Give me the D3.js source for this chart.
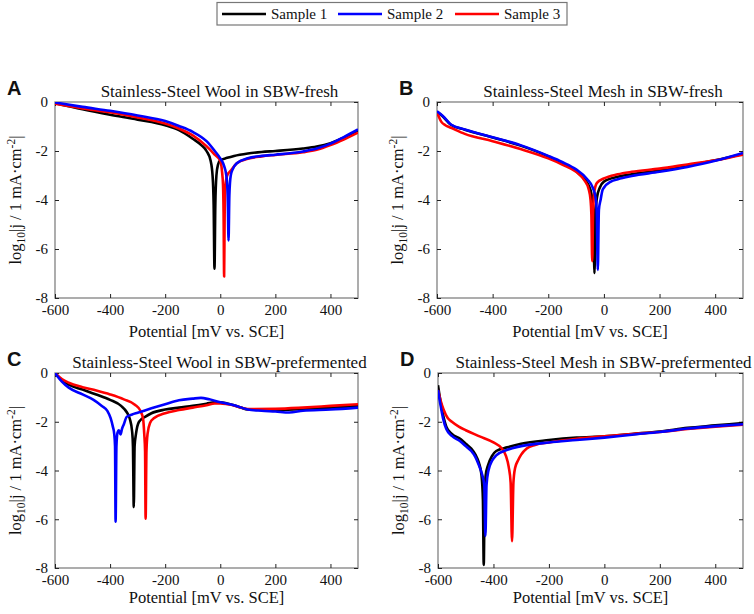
<!DOCTYPE html>
<html>
<head>
<meta charset="utf-8">
<script src="https://cdn.jsdelivr.net/npm/d3@7"></script>
<style>
  body { margin: 0; background: #fff; }
  text { font-family: "Liberation Serif", "Times New Roman", Times, serif; fill: #111; }
</style>
</head>
<body>
<script>
// potential (mV vs SCE) and log10|j|
var sampleNames = ["Sample 1", "Sample 2", "Sample 3"];
var sampleColors = ["#000000", "#0000ff", "#ff0000"];
var xTicks = [-600, -400, -200, 0, 200, 400];
var yTicks = [0, -2, -4, -6, -8];

// A: wool, fresh
var woolFresh1 = [[-600,-0.05],[-500,-0.3],[-400,-0.52],[-300,-0.72],[-200,-0.95],[-150,-1.15],[-100,-1.5],[-70,-1.75],[-50,-2.0],[-35,-2.4],[-28,-3.0],[-24,-4.2],[-21,-6.8],[-18,-4.2],[-14,-3.0],[-8,-2.55],[0,-2.38],[25,-2.28],[50,-2.2],[100,-2.1],[150,-2.04],[200,-2.0],[300,-1.9],[350,-1.82],[400,-1.68],[450,-1.45],[500,-1.15]];
var woolFresh2 = [[-600,-0.02],[-500,-0.2],[-400,-0.36],[-300,-0.55],[-200,-0.78],[-150,-0.98],[-100,-1.22],[-50,-1.6],[-20,-2.0],[0,-2.3],[12,-2.55],[22,-3.0],[27,-3.8],[30,-5.65],[33,-3.8],[38,-3.0],[45,-2.75],[60,-2.5],[100,-2.3],[150,-2.2],[200,-2.15],[300,-2.02],[350,-1.9],[400,-1.7],[450,-1.42],[500,-1.12]];
var woolFresh3 = [[-600,-0.07],[-500,-0.26],[-400,-0.42],[-300,-0.63],[-200,-0.88],[-150,-1.08],[-100,-1.36],[-50,-1.8],[-20,-2.15],[0,-2.4],[6,-2.8],[10,-3.4],[12,-4.5],[14,-7.12],[16,-4.5],[19,-3.4],[25,-3.0],[40,-2.78],[60,-2.5],[100,-2.32],[150,-2.22],[200,-2.16],[300,-2.05],[350,-1.95],[400,-1.76],[450,-1.52],[500,-1.25]];

// B: mesh, fresh
var meshFresh1 = [[-600,-0.4],[-580,-0.58],[-550,-0.93],[-500,-1.13],[-400,-1.45],[-300,-1.78],[-200,-2.22],[-150,-2.5],[-100,-2.82],[-70,-3.15],[-55,-3.4],[-44,-3.8],[-38,-4.5],[-34,-6.98],[-30,-4.5],[-25,-3.9],[-15,-3.5],[0,-3.25],[50,-3.05],[100,-2.95],[200,-2.8],[300,-2.6],[400,-2.38],[500,-2.12]];
var meshFresh2 = [[-600,-0.38],[-580,-0.56],[-550,-0.92],[-500,-1.12],[-400,-1.44],[-300,-1.76],[-200,-2.2],[-150,-2.45],[-100,-2.75],[-60,-3.15],[-40,-3.5],[-30,-3.9],[-26,-4.4],[-22,-6.85],[-18,-4.4],[-12,-4.0],[-5,-3.6],[0,-3.5],[25,-3.25],[50,-3.15],[100,-3.02],[200,-2.85],[300,-2.65],[400,-2.4],[500,-2.08]];
var meshFresh3 = [[-600,-0.42],[-585,-0.8],[-570,-0.95],[-550,-1.05],[-500,-1.3],[-400,-1.6],[-300,-1.92],[-200,-2.3],[-150,-2.55],[-100,-2.85],[-70,-3.2],[-55,-3.55],[-48,-4.0],[-45,-4.6],[-42,-6.5],[-39,-4.6],[-35,-3.7],[-25,-3.3],[0,-3.12],[50,-2.95],[100,-2.85],[200,-2.72],[300,-2.55],[400,-2.38],[500,-2.15]];

// C: wool, prefermented
var woolPre1 = [[-600,0],[-575,-0.3],[-550,-0.48],[-500,-0.68],[-450,-0.88],[-400,-1.1],[-360,-1.35],[-340,-1.6],[-328,-1.9],[-320,-2.4],[-317,-3.0],[-314,-5.5],[-311,-3.0],[-306,-2.5],[-295,-2.0],[-270,-1.78],[-250,-1.65],[-200,-1.5],[-150,-1.42],[-100,-1.35],[-50,-1.26],[-20,-1.2],[0,-1.2],[25,-1.25],[50,-1.32],[75,-1.42],[100,-1.5],[200,-1.52],[300,-1.47],[400,-1.42],[500,-1.35]];
var woolPre2 = [[-600,0],[-575,-0.35],[-550,-0.6],[-500,-0.88],[-460,-1.1],[-430,-1.35],[-410,-1.55],[-398,-1.85],[-390,-2.2],[-385,-2.5],[-382,-3.0],[-380,-6.1],[-377,-3.0],[-373,-2.45],[-368,-2.35],[-362,-2.52],[-357,-2.3],[-350,-2.1],[-340,-1.8],[-320,-1.7],[-300,-1.63],[-250,-1.45],[-200,-1.28],[-150,-1.12],[-100,-1.05],[-70,-1.02],[-40,-1.08],[0,-1.2],[50,-1.32],[100,-1.5],[150,-1.55],[200,-1.58],[250,-1.62],[300,-1.55],[400,-1.5],[500,-1.42]];
var woolPre3 = [[-600,0],[-575,-0.25],[-550,-0.4],[-500,-0.58],[-450,-0.72],[-400,-0.88],[-350,-1.08],[-310,-1.3],[-290,-1.55],[-280,-1.9],[-276,-2.5],[-273,-3.2],[-271,-5.98],[-268,-3.2],[-264,-2.5],[-255,-2.05],[-240,-1.85],[-200,-1.65],[-150,-1.52],[-100,-1.42],[-50,-1.32],[-20,-1.25],[0,-1.25],[25,-1.28],[50,-1.33],[75,-1.42],[100,-1.48],[200,-1.47],[300,-1.42],[400,-1.35],[500,-1.28]];

// D: mesh, prefermented
var meshPre1 = [[-600,-0.5],[-592,-1.1],[-582,-1.7],[-570,-2.2],[-550,-2.5],[-520,-2.7],[-500,-2.9],[-480,-3.1],[-465,-3.35],[-452,-3.7],[-443,-4.2],[-438,-5.2],[-435,-7.87],[-432,-5.2],[-428,-4.2],[-420,-3.8],[-405,-3.4],[-390,-3.2],[-350,-3.05],[-300,-2.9],[-200,-2.75],[-100,-2.65],[0,-2.6],[100,-2.5],[200,-2.4],[300,-2.25],[400,-2.15],[500,-2.05]];
var meshPre2 = [[-600,-0.7],[-592,-1.25],[-582,-1.85],[-570,-2.3],[-550,-2.58],[-520,-2.8],[-500,-3.0],[-480,-3.2],[-465,-3.45],[-452,-3.8],[-440,-4.2],[-433,-4.6],[-429,-6.68],[-425,-4.6],[-418,-4.0],[-405,-3.6],[-390,-3.38],[-350,-3.15],[-300,-3.0],[-200,-2.85],[-100,-2.75],[0,-2.65],[100,-2.53],[200,-2.42],[300,-2.28],[400,-2.18],[500,-2.1]];
var meshPre3 = [[-600,-0.7],[-590,-1.15],[-580,-1.5],[-565,-1.85],[-550,-2.0],[-525,-2.2],[-500,-2.35],[-450,-2.6],[-400,-2.85],[-370,-3.1],[-355,-3.4],[-345,-3.85],[-338,-4.5],[-333,-6.9],[-328,-4.5],[-322,-3.9],[-312,-3.6],[-300,-3.35],[-280,-3.1],[-250,-2.95],[-200,-2.85],[-100,-2.7],[0,-2.6],[100,-2.5],[200,-2.42],[300,-2.3],[400,-2.2],[500,-2.12]];

var svg = d3.select("body").append("svg")
    .attr("width", 754)
    .attr("height", 614);

// legend
var legend = svg.append("g");
legend.append("rect")
    .attr("x", 217).attr("y", 2.5)
    .attr("width", 350).attr("height", 22.5)
    .attr("fill", "#fff")
    .attr("stroke", "#777")
    .attr("stroke-width", 1.2);
var legendX = [222, 338, 455];
sampleNames.forEach(function (name, i) {
    legend.append("line")
        .attr("x1", legendX[i]).attr("x2", legendX[i] + 44)
        .attr("y1", 14).attr("y2", 14)
        .attr("stroke", sampleColors[i])
        .attr("stroke-width", 2.4);
    legend.append("text")
        .attr("x", legendX[i] + 49).attr("y", 19)
        .attr("font-size", "15px")
        .text(name);
});

var panels = [
    { tag: "A", title: "Stainless-Steel Wool in SBW-fresh", series: [woolFresh1, woolFresh2, woolFresh3],
      left: 55, right: 358, top: 102, bottom: 298 },
    { tag: "B", title: "Stainless-Steel Mesh in SBW-fresh", series: [meshFresh1, meshFresh2, meshFresh3],
      left: 437, right: 743, top: 102, bottom: 298 },
    { tag: "C", title: "Stainless-Steel Wool in SBW-prefermented", series: [woolPre1, woolPre2, woolPre3],
      left: 55, right: 358, top: 373, bottom: 568 },
    { tag: "D", title: "Stainless-Steel Mesh in SBW-prefermented", series: [meshPre1, meshPre2, meshPre3],
      left: 438, right: 743, top: 373, bottom: 568 }
];

panels.forEach(function (p, pi) {
    var x = d3.scaleLinear().domain([-600, 500]).range([p.left, p.right]);
    var y = d3.scaleLinear().domain([-8, 0]).range([p.bottom, p.top]);
    var g = svg.append("g");

    g.append("clipPath").attr("id", "clip" + pi)
        .append("rect")
        .attr("x", p.left).attr("y", p.top)
        .attr("width", p.right - p.left).attr("height", p.bottom - p.top);

    // frame
    g.append("rect")
        .attr("x", p.left).attr("y", p.top)
        .attr("width", p.right - p.left).attr("height", p.bottom - p.top)
        .attr("fill", "none")
        .attr("stroke", "#8a8a8a")
        .attr("stroke-width", 1.4);

    // inward ticks on all four sides
    var fmt = function (d) { return String(d); };
    g.append("g").attr("transform", "translate(0," + p.bottom + ")")
        .call(d3.axisBottom(x).tickValues(xTicks).tickSize(-4).tickPadding(6).tickFormat(fmt))
        .call(style);
    g.append("g").attr("transform", "translate(0," + p.top + ")")
        .call(d3.axisTop(x).tickValues(xTicks).tickSize(-4).tickFormat(""))
        .call(style);
    g.append("g").attr("transform", "translate(" + p.left + ",0)")
        .call(d3.axisLeft(y).tickValues(yTicks).tickSize(-4).tickPadding(7).tickFormat(fmt))
        .call(style);
    g.append("g").attr("transform", "translate(" + p.right + ",0)")
        .call(d3.axisRight(y).tickValues(yTicks).tickSize(-4).tickFormat(""))
        .call(style);

    var line = d3.line()
        .x(function (d) { return x(d[0]); })
        .y(function (d) { return y(d[1]); })
        .curve(d3.curveMonotoneX);

    [0, 2, 1].forEach(function (i) {
        g.append("path")
            .datum(p.series[i])
            .attr("clip-path", "url(#clip" + pi + ")")
            .attr("fill", "none")
            .attr("stroke", sampleColors[i])
            .attr("stroke-width", 2.6)
            .attr("stroke-linejoin", "round")
            .attr("d", line);
    });

    // title
    g.append("text")
        .attr("x", (p.left + p.right) / 2 + 13)
        .attr("y", p.top - 5)
        .attr("text-anchor", "middle")
        .attr("font-size", "17px")
        .text(p.title);

    // panel letter
    g.append("text")
        .attr("x", pi % 2 ? p.left - 38 : p.left - 48)
        .attr("y", p.top - 7)
        .attr("font-weight", "bold")
        .attr("font-size", "20px")
        .style("font-family", "'Liberation Sans', Arial, sans-serif")
        .text(p.tag);

    // x label
    g.append("text")
        .attr("x", (p.left + p.right) / 2)
        .attr("y", p.bottom + (pi < 2 ? 39 : 35))
        .attr("text-anchor", "middle")
        .attr("font-size", "16.5px")
        .text("Potential [mV vs. SCE]");

    // y label
    var yl = g.append("text")
        .attr("transform", "translate(" + (p.left - 34) + "," + ((p.top + p.bottom) / 2) + ") rotate(-90)")
        .attr("text-anchor", "middle")
        .attr("font-size", "16.5px");
    yl.append("tspan").text("log");
    yl.append("tspan").attr("font-size", "11.5px").attr("dy", 4).text("10");
    yl.append("tspan").attr("dy", -4).text("|j / 1 mA·cm");
    yl.append("tspan").attr("font-size", "11.5px").attr("dy", -6).text("-2");
    yl.append("tspan").attr("dy", 6).text("|");
});

function style(sel) {
    sel.attr("font-family", null).attr("font-size", null);
    sel.select(".domain").remove();
    sel.selectAll(".tick line").attr("stroke", "#222").attr("stroke-width", 1);
    sel.selectAll(".tick text")
        .attr("font-size", "15px")
        .attr("fill", "#111");
}
</script>
</body>
</html>
